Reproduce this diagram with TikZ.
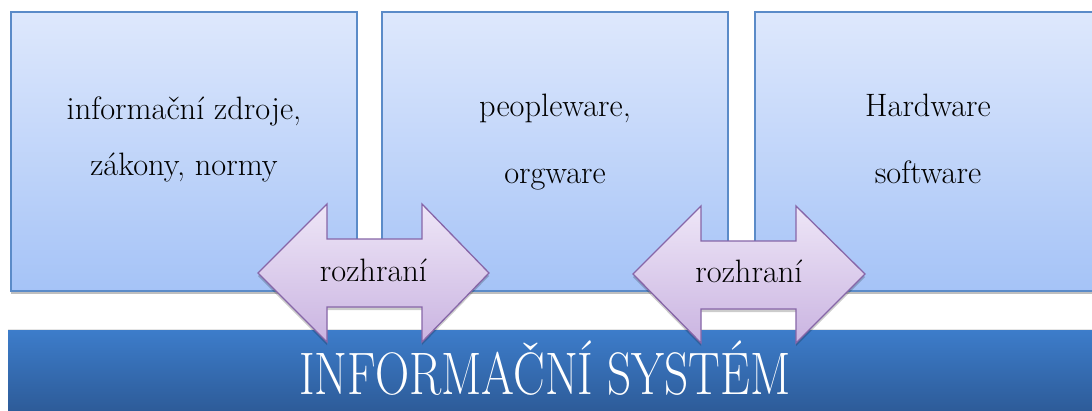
\documentclass[tikz,border=0pt]{standalone}
\usetikzlibrary{shadows}

\definecolor{boxtop}{HTML}{DEE8FC}
\definecolor{boxbot}{HTML}{A5C3F7}
\definecolor{boxline}{HTML}{5B8BC8}
\definecolor{bartop}{HTML}{3D7DCB}
\definecolor{barbot}{HTML}{2D5B98}
\definecolor{arrtop}{HTML}{EEE6F7}
\definecolor{arrbot}{HTML}{CAB4E1}
\definecolor{arrline}{HTML}{8766A8}

\tikzset{
  panel/.style={draw=boxline, line width=1.5pt, top color=boxtop, bottom color=boxbot,
    drop shadow={shadow xshift=0pt, shadow yshift=-3pt, opacity=0.25, fill=black}},
  basebar/.style={fill=bartop, top color=bartop, bottom color=barbot, draw=none},
  iface/.style={draw=arrline, line width=1.3pt, top color=arrtop, bottom color=arrbot,
    line join=miter,
    drop shadow={shadow xshift=0pt, shadow yshift=-3pt, opacity=0.2, fill=black}},
  label/.style={font=\fontsize{32.4}{38}\selectfont, text=black, anchor=base, inner sep=0pt},
}

\begin{document}
\begin{tikzpicture}[x=1pt, y=-1pt]
  \useasboundingbox (0,0) rectangle (1092,410);
  \fill[white] (0,0) rectangle (1092,410);

  % base layer of the system
  \path[basebar] (8,329) rectangle (1100,412);
  \draw[white!80!gray, line width=1pt] (8,329.5) -- (1100,329.5);
  \node[font=\fontsize{60}{68}\selectfont, text=white, anchor=base, inner sep=0pt]
    (is) at (545,394) {\scalebox{0.79}[1]{INFORMAČNÍ SYSTÉM}};

  % three component panels
  \path[panel] (11,12) rectangle (357,291);
  \path[panel] (382,12) rectangle (728,291);
  \path[panel] (755,12) rectangle (1110,291);

  \node[label] (l1a) at (184,119) {informační zdroje,};
  \node[label] (l1b) at (184,175) {zákony, normy};
  \node[label] (l2a) at (555,116) {peopleware,};
  \node[label] (l2b) at (555,183) {orgware};
  \node[label] (l3a) at (928,116) {Hardware};
  \node[label] (l3b) at (928,183) {software};

  % interfaces between the panels
  \path[iface] (258,273) -- (327,204) -- (327,239) -- (422,239) -- (422,204) -- (489,273)
    -- (422,342) -- (422,307) -- (327,307) -- (327,342) -- cycle;
  \node[label] (r1) at (373.5,281) {rozhraní};

  \path[iface] (633,274) -- (701,206) -- (701,241) -- (796,241) -- (796,206) -- (865,274)
    -- (796,343) -- (796,309) -- (701,309) -- (701,343) -- cycle;
  \node[label] (r2) at (749,282) {rozhraní};
\end{tikzpicture}
\end{document}
